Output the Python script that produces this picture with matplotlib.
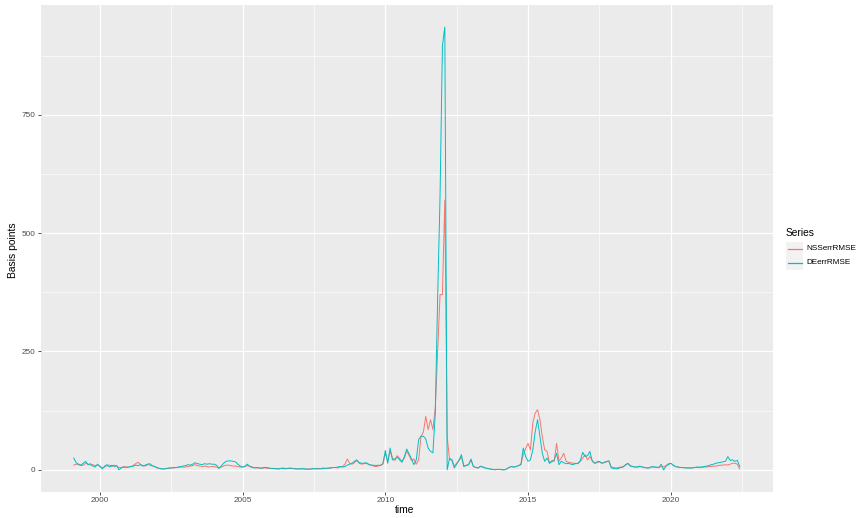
import numpy as np
import matplotlib
matplotlib.use("Agg")
import matplotlib.pyplot as plt
from matplotlib.lines import Line2D
from matplotlib.patches import Rectangle

plt.rcParams['font.family'] = ['Liberation Sans', 'DejaVu Sans']

# Monthly values, Feb 1999 .. Jun 2022 (basis points)
nss_1999_2004 = [10, 12, 11, 9, 10, 14, 12, 10, 11, 9, 10,
                 8, 4, 6, 9, 10, 7, 10, 8, 5, 5, 7, 6,
                 6, 7, 9, 13, 16, 12, 9, 8, 11, 10, 8, 7,
                 4, 3, 2, 2, 3, 3, 4, 4, 5, 5, 6, 6,
                 6, 7, 8, 9, 11, 9, 8, 7, 8, 7, 6, 7,
                 7, 6, 4, 6, 8, 10, 10, 9, 8, 8, 7, 6]
nss_2005_2010 = [6, 7, 9, 8, 6, 5, 4, 4, 3, 4, 4, 3,
                 3, 3, 3, 2, 3, 4, 3, 3, 3, 3, 3, 2,
                 2, 2, 2, 1, 2, 2, 2, 3, 3, 3, 4, 3,
                 3, 4, 5, 5, 4, 6, 7, 12, 23, 14, 12, 15,
                 20, 14, 12, 13, 14, 11, 10, 8, 7, 8, 10, 12,
                 35, 18, 40, 25, 20, 30, 24, 18, 25, 40, 30, 20]
nss_2011_2016 = [23, 12, 21, 71, 80, 113, 85, 106, 85, 131, 250, 370,
                 370, 570, 70, 21, 22, 8, 14, 20, 27, 8, 10, 11,
                 20, 8, 5, 4, 7, 6, 4, 3, 2, 1, 1, 1,
                 1, 1, 0, 2, 5, 7, 6, 7, 9, 12, 32, 45,
                 56, 42, 99, 120, 127, 106, 70, 42, 39, 14, 20, 18,
                 56, 18, 25, 35, 18, 16, 15, 14, 13, 14, 18, 25]
nss_2017_2022 = [32, 21, 28, 20, 14, 15, 17, 14, 15, 17, 18, 6,
                 5, 4, 5, 6, 7, 10, 13, 9, 7, 6, 6, 7,
                 6, 5, 4, 5, 6, 6, 5, 5, 7, 6, 9, 13,
                 14, 10, 7, 6, 5, 5, 5, 4, 4, 4, 5, 5,
                 5, 5, 6, 6, 7, 7, 8, 8, 9, 10, 10, 11,
                 10, 12, 14, 14, 12, 2]

de_1999_2004 = [25, 15, 12, 10, 14, 18, 11, 13, 8, 6, 12,
                7, 2, 8, 11, 6, 10, 7, 9, 0, 4, 6, 5,
                6, 7, 8, 10, 9, 11, 8, 10, 12, 13, 9, 7,
                5, 3, 2, 2, 3, 4, 4, 5, 5, 6, 7, 8,
                9, 11, 10, 12, 15, 13, 12, 11, 13, 12, 13, 12,
                12, 10, 3, 8, 14, 18, 19, 19, 18, 17, 12, 8]
de_2005_2010 = [6, 8, 12, 7, 5, 4, 5, 4, 4, 5, 5, 4,
                3, 3, 2, 2, 3, 3, 2, 3, 4, 3, 2, 2,
                2, 3, 2, 2, 1, 2, 3, 2, 2, 2, 3, 3,
                4, 4, 5, 5, 6, 7, 6, 7, 10, 12, 14, 18,
                21, 15, 14, 14, 15, 12, 10, 10, 9, 10, 9, 14,
                41, 14, 46, 21, 23, 27, 21, 16, 28, 44, 34, 23]
de_2011_2016 = [11, 21, 64, 71, 71, 65, 46, 39, 36, 120, 366, 578,
                896, 935, 0, 25, 20, 4, 12, 21, 32, 7, 9, 11,
                23, 7, 5, 4, 8, 6, 4, 3, 2, 1, 0, 1,
                1, 0, 0, 2, 5, 7, 6, 7, 9, 11, 46, 28,
                18, 21, 42, 80, 106, 71, 35, 18, 25, 14, 17, 21,
                35, 11, 18, 15, 13, 14, 12, 11, 14, 13, 20, 37]
de_2017_2022 = [28, 30, 39, 18, 14, 17, 18, 14, 16, 18, 19, 4,
                3, 2, 3, 5, 6, 11, 14, 8, 7, 6, 6, 8,
                6, 5, 4, 4, 7, 6, 6, 5, 12, 0, 8, 11,
                14, 10, 7, 6, 5, 5, 4, 4, 4, 4, 5, 6,
                6, 6, 7, 8, 9, 11, 12, 14, 15, 16, 17, 18,
                28, 20, 21, 18, 20, 7]

series_names = ["NSSerrRMSE", "DEerrRMSE"]
series_colors = ["#F8766D", "#00BFC4"]
x_breaks = [2000, 2005, 2010, 2015, 2020]
y_breaks = [0, 250, 500, 750]

nss = np.array(nss_1999_2004 + nss_2005_2010 + nss_2011_2016 + nss_2017_2022, float)
de = np.array(de_1999_2004 + de_2005_2010 + de_2011_2016 + de_2017_2022, float)
t = 1999 + 1 / 12 + np.arange(len(nss)) / 12.0

W, H = 856, 518
fig = plt.figure(figsize=(W / 100, H / 100), dpi=100)
fig.patch.set_facecolor("white")
L, R, T, B = 40.5, 773, 5, 492
ax = fig.add_axes([L / W, 1 - B / H, (R - L) / W, (B - T) / H])
ax.set_facecolor("#EBEBEB")

for vals, name, col in zip([nss, de], series_names, series_colors):
    ax.plot(t, vals, color=col, lw=0.7, label=name, zorder=3)

xr = t.max() - t.min()
ax.set_xlim(t.min() - 0.05 * xr, t.max() + 0.05 * xr)
ymax = max(nss.max(), de.max())
ax.set_ylim(-0.05 * ymax, ymax * 1.05)

ax.set_xticks(x_breaks)
ax.set_xticklabels([str(v) for v in x_breaks])
ax.set_yticks(y_breaks)
ax.set_yticklabels([str(v) for v in y_breaks])
ax.set_xticks([2002.5, 2007.5, 2012.5, 2017.5, 2022.5], minor=True)
ax.set_yticks([125, 375, 625, 875], minor=True)
ax.grid(which="major", color="white", lw=0.9, zorder=1)
ax.grid(which="minor", color="white", lw=0.45, zorder=1)
ax.tick_params(which="major", length=2, width=0.6, color="#333333",
               labelsize=5.9, labelcolor="#4D4D4D", pad=1.5)
ax.tick_params(which="minor", length=0)
for s in ax.spines.values():
    s.set_visible(False)

ax.set_xlabel("time", fontsize=7.4, color="black")
ax.set_ylabel("Basis points", fontsize=7.4, color="black")
ax.xaxis.set_label_coords((405 - L) / (R - L), -(510 - B) / (B - T))
ax.yaxis.set_label_coords(-(L - 13) / (R - L), (B - 250) / (B - T))
ax.xaxis.label.set_va("center")
ax.yaxis.label.set_va("center")

# legend (ggplot style, placed in figure pixels)
def fx(px):
    return px / W

def fy(py):
    return 1 - py / H

fig.text(fx(786), fy(233.5), "Series", fontsize=7.4, color="black",
         ha="left", va="center")
key_y = [248.5, 263]
for name, col, yy in zip(series_names, series_colors, key_y):
    fig.patches.append(Rectangle((fx(786), fy(yy + 7)), 17 / W, 14 / H,
                                 transform=fig.transFigure,
                                 facecolor="#F2F2F2", edgecolor="none"))
    fig.lines.append(Line2D([fx(787.5), fx(801.5)], [fy(yy), fy(yy)],
                            transform=fig.transFigure, color=col, lw=0.9))
    fig.text(fx(806), fy(yy), name, fontsize=5.9, color="black",
             ha="left", va="center")

fig.savefig("out.png", dpi=100)
